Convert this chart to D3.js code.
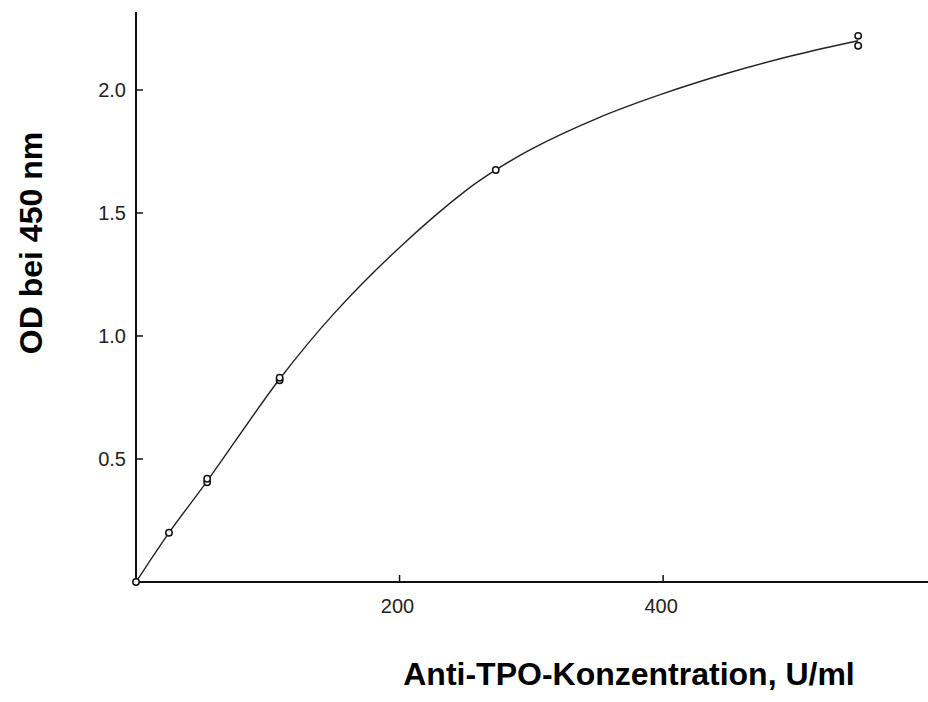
<!DOCTYPE html>
<html>
<head>
<meta charset="utf-8">
<script src="https://cdn.jsdelivr.net/npm/d3@7"></script>
<style>
  html, body { margin: 0; padding: 0; background: #fff; }
  svg { display: block; }
  .tick-label { font-family: "Liberation Sans", Arial, sans-serif; font-size: 20px; fill: #222; }
  .axis-title { font-family: "Liberation Sans", Arial, sans-serif; font-size: 32px; font-weight: bold; fill: #000; }
</style>
</head>
<body>
<div id="chart"></div>
<script>
// standards (concentration, OD) — duplicates drawn as two circles
const stdConc = [0, 25, 54, 54, 109, 109, 273, 548, 548];
const stdOD   = [0, 0.20, 0.405, 0.42, 0.82, 0.83, 1.675, 2.18, 2.22];

// fitted curve
const curveConc = [0, 25, 54, 109, 150, 200, 250, 273, 300, 350, 400, 450, 500, 548];
const curveOD   = [0, 0.20, 0.41, 0.825, 1.09, 1.36, 1.59, 1.675, 1.76, 1.885, 1.985, 2.07, 2.142, 2.20];

const xTicks = [200, 400];
const yTicks = [0.5, 1.0, 1.5, 2.0];

const width = 928, height = 702;

const svg = d3.select("#chart").append("svg")
  .attr("width", width)
  .attr("height", height);

const x = d3.scaleLinear().domain([0, 601]).range([136, 928]);
const y = d3.scaleLinear().domain([0, 2.317]).range([582, 12]);

/* ─── axes ─── */
svg.append("line")
  .attr("x1", x(0)).attr("x2", x(0))
  .attr("y1", y(2.317)).attr("y2", y(0))
  .attr("stroke", "#111").attr("stroke-width", 2);

svg.append("line")
  .attr("x1", x(0)).attr("x2", x(601))
  .attr("y1", y(0)).attr("y2", y(0))
  .attr("stroke", "#111").attr("stroke-width", 2);

// y ticks point inward (to the right)
svg.selectAll(".ytick")
  .data(yTicks)
  .enter().append("line")
  .attr("x1", x(0)).attr("x2", x(0) + 7)
  .attr("y1", d => y(d)).attr("y2", d => y(d))
  .attr("stroke", "#111").attr("stroke-width", 1.5);

svg.selectAll(".ylab")
  .data(yTicks)
  .enter().append("text")
  .attr("class", "tick-label")
  .attr("x", x(0) - 10)
  .attr("y", d => y(d))
  .attr("dy", "0.36em")
  .attr("text-anchor", "end")
  .text(d3.format(".1f"));

// x ticks point inward (upwards)
svg.selectAll(".xtick")
  .data(xTicks)
  .enter().append("line")
  .attr("x1", d => x(d)).attr("x2", d => x(d))
  .attr("y1", y(0)).attr("y2", y(0) - 7)
  .attr("stroke", "#111").attr("stroke-width", 1.5);

svg.selectAll(".xlab")
  .data(xTicks)
  .enter().append("text")
  .attr("class", "tick-label")
  .attr("x", d => x(d) - 2)
  .attr("y", y(0) + 31)
  .attr("text-anchor", "middle")
  .text(d => d);

/* ─── fitted curve ─── */
const line = d3.line()
  .x(d => x(d[0]))
  .y(d => y(d[1]))
  .curve(d3.curveCatmullRom.alpha(0.5));

svg.append("path")
  .datum(d3.zip(curveConc, curveOD))
  .attr("d", line)
  .attr("fill", "none")
  .attr("stroke", "#222")
  .attr("stroke-width", 1.4);

/* ─── standards ─── */
svg.selectAll(".std")
  .data(d3.zip(stdConc, stdOD))
  .enter().append("circle")
  .attr("cx", d => x(d[0]))
  .attr("cy", d => y(d[1]))
  .attr("r", 3.2)
  .attr("fill", "#fff")
  .attr("stroke", "#111")
  .attr("stroke-width", 1.5);

/* ─── titles ─── */
svg.append("text")
  .attr("class", "axis-title")
  .attr("transform", `translate(42,243) rotate(-90)`)
  .attr("text-anchor", "middle")
  .text("OD bei 450 nm");

svg.append("text")
  .attr("class", "axis-title")
  .attr("x", 629)
  .attr("y", 685)
  .attr("text-anchor", "middle")
  .text("Anti-TPO-Konzentration, U/ml");
</script>
</body>
</html>
